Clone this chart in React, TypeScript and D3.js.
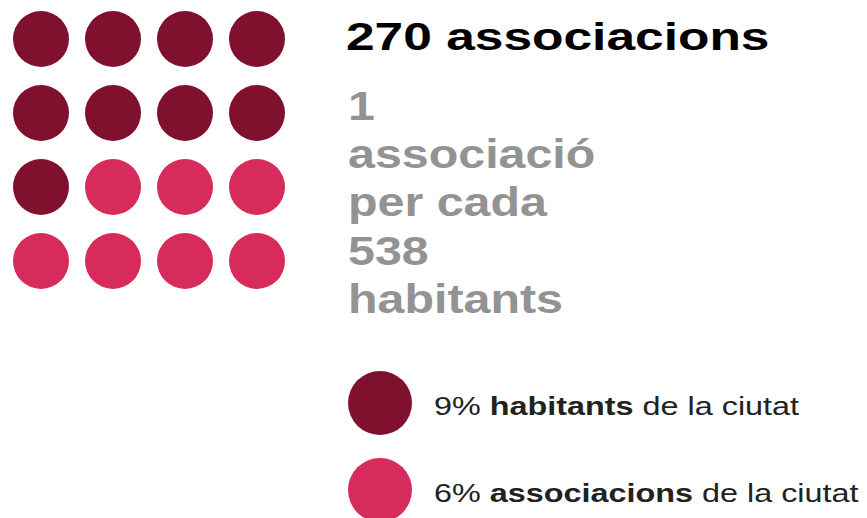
import React from "react";
import * as d3 from "d3";

const categories = ["habitants", "associacions"];
const dotCounts = [9, 7];
const percentages = [9, 6];
const colors = ["#80112e", "#d72b5c"];
const titleText = "270 associacions";
const subtitleLines = ["1", "associació", "per cada", "538", "habitants"];
const gridCols = 4;
const gridRows = 4;

const W = 867;
const H = 518;
const FONT = "'Liberation Sans', Arial, Helvetica, sans-serif";

export default function App() {
  const dots: { i: number; cat: number }[] = [];
  dotCounts.forEach((n, c) => {
    for (let k = 0; k < n; k++) dots.push({ i: dots.length, cat: c });
  });
  const x = d3.scalePoint<number>().domain(d3.range(gridCols)).range([41, 257]);
  const y = d3.scalePoint<number>().domain(d3.range(gridRows)).range([39, 261]);
  const color = d3.scaleOrdinal<number, string>().domain([0, 1]).range(colors);
  const lineY = d3.scalePoint<number>().domain(d3.range(subtitleLines.length)).range([120, 313]);
  const legendY = d3.scalePoint<number>().domain(d3.range(categories.length)).range([403, 490]);

  return (
    <svg width={W} height={H} style={{ position: "absolute", left: 0, top: 0 }} fontFamily={FONT}>
      <rect width={W} height={H} fill="#ffffff" />
      {dots.map((d) => (
        <circle
          key={d.i}
          cx={x(d.i % gridCols)}
          cy={y(Math.floor(d.i / gridCols))}
          r={28}
          fill={color(d.cat)}
        />
      ))}
      <g transform="translate(346,50) scale(1.32,1)">
        <text x={0} y={0} fontSize={39} fontWeight={700} fill="#000">
          {titleText}
        </text>
      </g>
      <g transform="translate(348,0) scale(1.18,1)">
        {subtitleLines.map((t, i) => (
          <text key={i} x={0} y={lineY(i)} fontSize={41} fontWeight={700} fill="#939393">
            {t}
          </text>
        ))}
      </g>
      {categories.map((c, i) => (
        <g key={c}>
          <circle cx={380} cy={legendY(i)} r={32} fill={colors[i]} />
          <g transform={`translate(434,${(legendY(i) as number) + 12}) scale(1.245,1)`}>
            <text x={0} y={0} fontSize={26} fill="#222">
              <tspan>{percentages[i]}% </tspan>
              <tspan fontWeight={700}>{c}</tspan>
              <tspan> de la ciutat</tspan>
            </text>
          </g>
        </g>
      ))}
    </svg>
  );
}
